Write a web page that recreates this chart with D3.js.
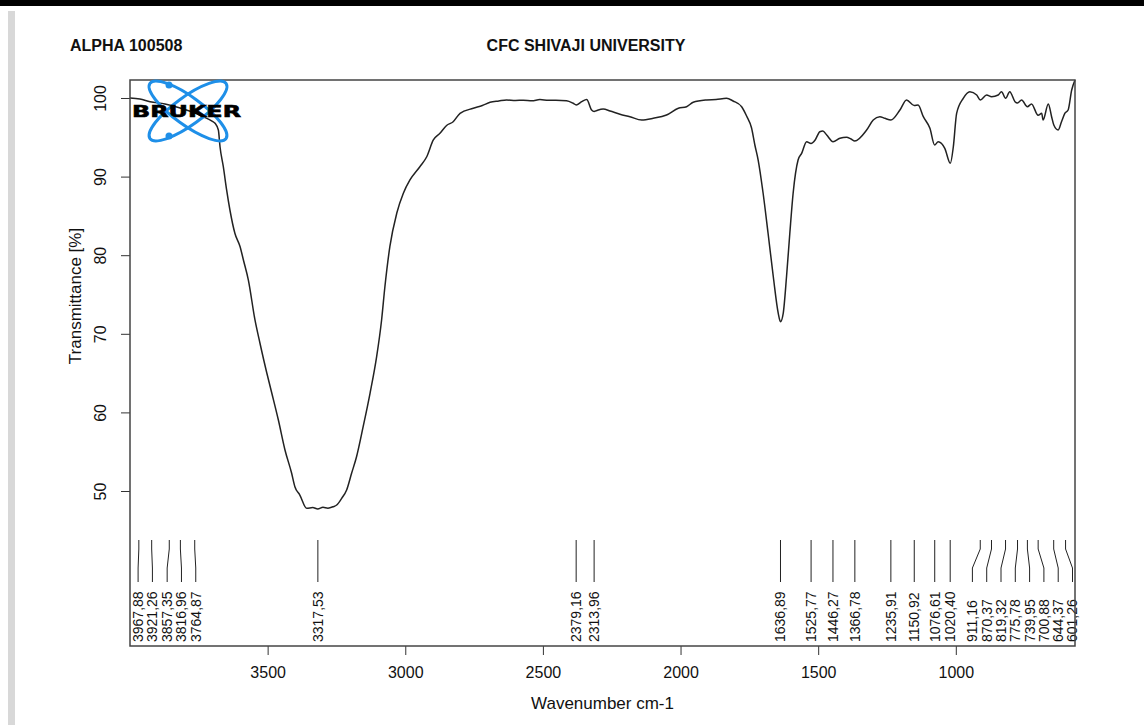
<!DOCTYPE html>
<html>
<head>
<meta charset="utf-8">
<script src="https://cdn.jsdelivr.net/npm/d3@7"></script>
<style>
  body { margin: 0; background: #fff; }
  svg { display: block; font-family: "Liberation Sans", Arial, sans-serif; }
</style>
</head>
<body>
<svg id="chart" width="1144" height="725"></svg>
<script>
// spectrum (wavenumber cm-1, transmittance %)
const wavenumber = [4000, 3964, 3927, 3873, 3818, 3764, 3734, 3702, 3691, 3679, 3673, 3661, 3649, 3637, 3619, 3600,
  3588, 3570, 3546, 3528, 3503, 3485, 3461, 3437, 3413, 3401, 3383, 3358, 3336, 3318, 3299, 3281, 3262, 3249,
  3231, 3213, 3195, 3177, 3153, 3128, 3104, 3086, 3074, 3056, 3031, 3007, 2983, 2947, 2922, 2898, 2874, 2850,
  2826, 2801, 2753, 2720, 2692, 2660, 2632, 2600, 2571, 2540, 2511, 2480, 2453, 2414, 2390, 2379, 2359, 2341,
  2323, 2314, 2304, 2281, 2256, 2220, 2184, 2141, 2099, 2051, 2008, 1978, 1954, 1905, 1871, 1833, 1809, 1778,
  1760, 1742, 1730, 1718, 1700, 1682, 1663, 1645, 1637, 1627, 1615, 1603, 1591, 1573, 1560, 1542, 1526, 1511,
  1494, 1483, 1469, 1446, 1421, 1397, 1381, 1367, 1324, 1300, 1276, 1258, 1236, 1203, 1179, 1151, 1137, 1118,
  1094, 1077, 1064, 1040, 1020, 1009, 997, 973, 949, 924, 911, 888, 870, 846, 834, 819, 804, 785, 776, 761,
  740, 725, 701, 688, 683, 664, 652, 644, 628, 616, 604, 592, 579, 567];
const transmittance = [100.0, 99.87, 99.53, 99.24, 98.73, 98.09, 97.62, 97.07, 96.78, 95.93, 93.80, 91.26, 88.30, 85.75, 82.79, 81.08,
  79.39, 76.84, 71.76, 68.83, 65.01, 62.47, 59.03, 55.22, 52.29, 50.55, 49.49, 47.80, 47.90, 47.72, 47.93, 47.82, 48.00, 48.22,
  49.07, 50.13, 52.25, 54.36, 58.18, 62.43, 67.09, 71.76, 75.99, 81.08, 85.33, 87.88, 89.57, 91.26, 92.53, 94.66, 95.51, 96.50,
  96.98, 98.05, 98.69, 99.05, 99.45, 99.62, 99.75, 99.68, 99.72, 99.65, 99.80, 99.70, 99.71, 99.66, 99.33, 99.11, 99.53, 99.81,
  98.47, 98.28, 98.41, 98.60, 98.35, 97.93, 97.62, 97.20, 97.42, 97.84, 98.69, 98.89, 99.45, 99.75, 99.81, 99.96, 99.62, 98.89,
  97.71, 96.18, 94.02, 92.11, 87.88, 82.79, 77.26, 72.61, 71.54, 72.61, 77.26, 82.79, 87.88, 92.11, 92.96, 94.44, 94.21, 94.66,
  95.71, 95.80, 95.29, 94.44, 94.87, 95.00, 94.78, 94.53, 95.93, 97.20, 97.62, 97.42, 97.20, 98.47, 99.75, 99.05, 99.11, 97.62,
  96.14, 94.02, 94.44, 93.60, 91.69, 93.80, 98.05, 99.96, 100.80, 100.38, 99.75, 100.38, 100.17, 100.38, 100.80, 99.96, 100.80, 99.53, 99.36, 99.75,
  98.89, 99.24, 97.80, 98.05, 97.20, 99.24, 97.62, 96.56, 95.93, 96.98, 98.05, 98.47, 101.02, 102.29];

const peaks = [3967.88, 3921.26, 3857.35, 3816.96, 3764.87, 3317.53, 2379.16, 2313.96, 1636.89, 1525.77,
  1446.27, 1366.78, 1235.91, 1150.92, 1076.61, 1020.40, 911.16, 870.37, 819.32, 775.78, 739.95, 700.88,
  644.37, 601.26];

const xTicks = [3500, 3000, 2500, 2000, 1500, 1000];
const yTicks = [50, 60, 70, 80, 90, 100];

const svg = d3.select("#chart");
const box = { left: 130, top: 80, right: 1075, bottom: 646 };

const x = d3.scaleLinear().domain([4000, 567]).range([box.left, box.right]);
const y = d3.scaleLinear().domain([30.28, 102.29]).range([box.bottom, box.top]);

// page decoration
svg.append("rect").attr("x", 0).attr("y", 0).attr("width", 1144).attr("height", 6).attr("fill", "#000");
svg.append("rect").attr("x", 8).attr("y", 11).attr("width", 7).attr("height", 714).attr("fill", "#d8d8d8");

// header
svg.append("text").attr("x", 70).attr("y", 51)
  .style("font-size", "16px").style("font-weight", "bold").attr("fill", "#111")
  .text("ALPHA 100508");
svg.append("text").attr("x", 586).attr("y", 51).attr("text-anchor", "middle")
  .style("font-size", "16px").style("font-weight", "bold").attr("fill", "#111")
  .text("CFC SHIVAJI UNIVERSITY");

// axes
const xAxis = svg.append("g").attr("transform", `translate(0,${box.bottom})`)
  .call(d3.axisBottom(x).tickValues(xTicks).tickFormat(d3.format("d")).tickSize(9).tickPadding(12));
xAxis.select(".domain").remove();
xAxis.selectAll("text").style("font-size", "16px").attr("fill", "#111");
xAxis.selectAll("line").attr("stroke", "#333");

const yAxis = svg.append("g").attr("transform", `translate(${box.left},0)`)
  .call(d3.axisLeft(y).tickValues(yTicks).tickFormat(d3.format("d")).tickSize(9));
yAxis.select(".domain").remove();
yAxis.selectAll("line").attr("stroke", "#333");
yAxis.selectAll("text")
  .attr("x", null).attr("dy", "0.35em")
  .attr("transform", "translate(-30,0) rotate(-90)")
  .attr("text-anchor", "middle")
  .style("font-size", "16px").attr("fill", "#111");

svg.append("text")
  .attr("transform", "translate(75,296) rotate(-90)")
  .attr("text-anchor", "middle").attr("dy", "0.35em")
  .style("font-size", "17px").attr("fill", "#111")
  .text("Transmittance [%]");
svg.append("text")
  .attr("x", (box.left + box.right) / 2).attr("y", 709)
  .attr("text-anchor", "middle")
  .style("font-size", "17px").attr("fill", "#111")
  .text("Wavenumber cm-1");

// spectrum
const pts = wavenumber.map((w, i) => [w, transmittance[i]]);
svg.append("path")
  .datum(pts)
  .attr("fill", "none")
  .attr("stroke", "#222")
  .attr("stroke-width", 1.5)
  .attr("d", d3.line().x(d => x(d[0])).y(d => y(d[1])).curve(d3.curveMonotoneX));

// peak labels, pushed apart where they crowd
function spread(xs, gap) {
  let groups = xs.map(v => ({ sum: v, n: 1, start: v }));
  let merged = true;
  while (merged) {
    merged = false;
    for (let i = 0; i < groups.length - 1; i++) {
      const a = groups[i], b = groups[i + 1];
      if (b.start - (a.start + (a.n - 1) * gap) < gap) {
        const m = { sum: a.sum + b.sum, n: a.n + b.n };
        m.start = m.sum / m.n - (m.n - 1) * gap / 2;
        groups.splice(i, 2, m);
        merged = true;
        break;
      }
    }
  }
  return groups.flatMap(g => d3.range(g.n).map(k => g.start + k * gap));
}

const peakX = peaks.map(p => x(p));
const labelX = spread(peakX, 14.3);
const fmt = v => d3.format(".2f")(v).replace(".", ",");

const pk = svg.append("g");
pk.selectAll("path")
  .data(peaks)
  .join("path")
  .attr("fill", "none")
  .attr("stroke", "#222")
  .attr("stroke-width", 1)
  .attr("d", (d, i) => d3.line()([[peakX[i], 540], [peakX[i], 549], [labelX[i], 568], [labelX[i], 582]]));
pk.selectAll("text")
  .data(peaks)
  .join("text")
  .attr("transform", (d, i) => `translate(${labelX[i]},642) rotate(-90)`)
  .attr("dy", "0.35em")
  .style("font-size", "14px")
  .attr("fill", "#111")
  .text(d => fmt(d));

// frame
svg.append("rect")
  .attr("x", box.left).attr("y", box.top)
  .attr("width", box.right - box.left).attr("height", box.bottom - box.top)
  .attr("fill", "none").attr("stroke", "#444").attr("stroke-width", 1.5);

// Bruker logo
const logo = svg.append("g").attr("transform", "translate(188,111)");
[36, -36].forEach(a => {
  logo.append("ellipse").attr("rx", 47).attr("ry", 14)
    .attr("transform", `rotate(${a})`)
    .attr("fill", "none").attr("stroke", "#1e8fe8").attr("stroke-width", 3);
});
logo.append("circle").attr("cx", -19).attr("cy", -26).attr("r", 3.5).attr("fill", "#1e8fe8");
logo.append("circle").attr("cx", -19).attr("cy", 25).attr("r", 3.5).attr("fill", "#1e8fe8");
svg.append("text")
  .attr("x", 132).attr("y", 117)
  .attr("textLength", 109).attr("lengthAdjust", "spacingAndGlyphs")
  .style("font-family", "'DejaVu Sans', sans-serif")
  .style("font-size", "16px").style("font-weight", "bold")
  .attr("fill", "#000").attr("stroke", "#000").attr("stroke-width", 0.6)
  .text("BRUKER");
</script>
</body>
</html>
